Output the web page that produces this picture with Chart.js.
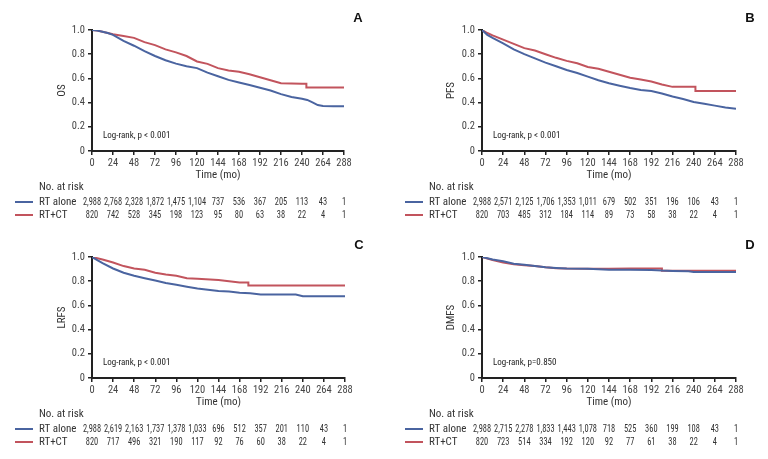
<!DOCTYPE html>
<html><head><meta charset="utf-8">
<script src="https://cdn.jsdelivr.net/npm/chart.js@4.4.0/dist/chart.umd.min.js"></script>
<style>
html,body{margin:0;padding:0;background:#fff;width:768px;height:459px;overflow:hidden}
.p{position:absolute}
</style></head><body>
<div class="p" style="left:0;top:0;width:384px;height:230px"><canvas id="cA"></canvas></div>
<div class="p" style="left:384px;top:0;width:384px;height:230px"><canvas id="cB"></canvas></div>
<div class="p" style="left:0;top:230px;width:384px;height:229px"><canvas id="cC"></canvas></div>
<div class="p" style="left:384px;top:230px;width:384px;height:229px"><canvas id="cD"></canvas></div>
<script>
// ---- tick labels ----
const xTicks = [0, 24, 48, 72, 96, 120, 144, 168, 192, 216, 240, 264, 288];
const yTicks = [0, 0.2, 0.4, 0.6, 0.8, 1.0];
const groups = ['RT alone', 'RT+CT'];

// ---- A: OS ----
const osAloneTime = [0, 6, 12, 18, 24, 36, 48, 60, 72, 84, 96, 108, 120, 132, 144, 156, 168, 180, 192, 204, 216, 228, 240, 246, 252, 258, 264, 276, 288];
const osAloneSurv = [1, 0.995, 0.985, 0.975, 0.96, 0.91, 0.87, 0.825, 0.785, 0.75, 0.722, 0.70, 0.685, 0.648, 0.618, 0.588, 0.566, 0.545, 0.523, 0.50, 0.47, 0.447, 0.432, 0.422, 0.402, 0.38, 0.372, 0.37, 0.37];
const osCtTime = [0, 6, 12, 18, 24, 36, 48, 60, 72, 84, 96, 108, 120, 132, 144, 156, 168, 180, 192, 204, 216, 228, 240, 245, 245, 288];
const osCtSurv = [1, 0.995, 0.985, 0.975, 0.965, 0.95, 0.935, 0.9, 0.875, 0.84, 0.815, 0.785, 0.74, 0.72, 0.685, 0.665, 0.655, 0.635, 0.61, 0.585, 0.56, 0.557, 0.555, 0.555, 0.525, 0.525];
const osRiskAlone = [2988, 2768, 2328, 1872, 1475, 1104, 737, 536, 367, 205, 113, 43, 1];
const osRiskCt = [820, 742, 528, 345, 198, 123, 95, 80, 63, 38, 22, 4, 1];

// ---- B: PFS ----
const pfsAloneTime = [0, 6, 12, 24, 36, 48, 60, 72, 84, 96, 108, 120, 132, 144, 156, 168, 180, 192, 204, 216, 228, 240, 252, 264, 276, 288];
const pfsAloneSurv = [1, 0.96, 0.935, 0.89, 0.84, 0.80, 0.765, 0.73, 0.70, 0.67, 0.645, 0.615, 0.585, 0.56, 0.54, 0.52, 0.505, 0.495, 0.475, 0.45, 0.43, 0.405, 0.39, 0.375, 0.36, 0.35];
const pfsCtTime = [0, 6, 12, 24, 36, 48, 60, 72, 84, 96, 108, 120, 132, 144, 156, 168, 180, 192, 204, 216, 242, 242, 288];
const pfsCtSurv = [1, 0.975, 0.955, 0.92, 0.885, 0.85, 0.83, 0.80, 0.77, 0.745, 0.725, 0.695, 0.68, 0.655, 0.63, 0.605, 0.59, 0.575, 0.55, 0.53, 0.53, 0.495, 0.495];
const pfsRiskAlone = [2988, 2571, 2125, 1706, 1353, 1011, 679, 502, 351, 196, 106, 43, 1];
const pfsRiskCt = [820, 703, 485, 312, 184, 114, 89, 73, 58, 38, 22, 4, 1];

// ---- C: LRFS ----
const lrfsAloneTime = [0, 6, 12, 24, 36, 48, 60, 72, 84, 96, 108, 120, 132, 144, 156, 168, 180, 192, 216, 232, 240, 288];
const lrfsAloneSurv = [1, 0.975, 0.95, 0.905, 0.87, 0.845, 0.825, 0.805, 0.785, 0.77, 0.755, 0.74, 0.73, 0.72, 0.715, 0.705, 0.70, 0.69, 0.69, 0.69, 0.675, 0.675];
const lrfsCtTime = [0, 12, 24, 36, 48, 60, 72, 84, 96, 108, 120, 144, 156, 168, 178, 178, 288];
const lrfsCtSurv = [1, 0.98, 0.955, 0.925, 0.905, 0.895, 0.87, 0.855, 0.845, 0.825, 0.82, 0.81, 0.80, 0.79, 0.79, 0.765, 0.765];
const lrfsRiskAlone = [2988, 2619, 2163, 1737, 1378, 1033, 696, 512, 357, 201, 110, 43, 1];
const lrfsRiskCt = [820, 717, 496, 321, 190, 117, 92, 76, 60, 38, 22, 4, 1];

// ---- D: DMFS ----
const dmfsAloneTime = [0, 12, 24, 36, 48, 60, 72, 84, 96, 120, 144, 168, 192, 204, 216, 234, 240, 288];
const dmfsAloneSurv = [1, 0.98, 0.965, 0.945, 0.935, 0.925, 0.915, 0.91, 0.905, 0.902, 0.895, 0.895, 0.893, 0.888, 0.885, 0.882, 0.877, 0.875];
const dmfsCtTime = [0, 12, 24, 36, 48, 60, 72, 84, 96, 120, 144, 168, 204, 204, 288];
const dmfsCtSurv = [1, 0.975, 0.955, 0.94, 0.932, 0.925, 0.915, 0.908, 0.905, 0.903, 0.903, 0.905, 0.905, 0.887, 0.887];
const dmfsRiskAlone = [2988, 2715, 2278, 1833, 1443, 1078, 718, 525, 360, 199, 108, 43, 1];
const dmfsRiskCt = [820, 723, 514, 334, 192, 120, 92, 77, 61, 38, 22, 4, 1];

// ---- styling ----
const BLUE = '#4a64a0';
const RED = '#c2545d';
const NARROW = '"Liberation Sans Narrow", "Roboto Condensed", "DejaVu Sans Condensed", sans-serif';
const AXIS = '#222';
const LABEL = '#444';

function pts(t, s) { return t.map((v, i) => ({ x: v, y: s[i] })); }

const panelPlugin = {
  id: 'panel',
  afterDraw(chart, args, o) {
    const { ctx, chartArea: a, scales: { x } } = chart;
    ctx.save();
    ctx.fillStyle = '#111';
    ctx.font = 'bold 13px "Liberation Sans", Arial, sans-serif';
    ctx.textAlign = 'center';
    ctx.textBaseline = 'middle';
    ctx.fillText(o.letter, a.right + 14, a.top - 12);

    ctx.fillStyle = '#222';
    ctx.font = '9px ' + NARROW;
    ctx.textAlign = 'left';
    ctx.fillText(o.logrank, a.left + 11, a.bottom - 15);

    ctx.fillStyle = '#333';
    ctx.font = '11px ' + NARROW;
    ctx.fillText('No. at risk', a.left - 53, a.bottom + 36);
    const rows = [[o.riskAlone, BLUE, 51], [o.riskCt, RED, 64]];
    rows.forEach(([vals, col, dy], r) => {
      const y = a.bottom + dy;
      ctx.strokeStyle = col;
      ctx.lineWidth = 2;
      ctx.beginPath();
      ctx.moveTo(a.left - 77, y);
      ctx.lineTo(a.left - 59, y);
      ctx.stroke();
      ctx.fillStyle = '#333';
      ctx.textAlign = 'left';
      ctx.font = '11px ' + NARROW;
      ctx.fillText(groups[r], a.left - 53, y);
      ctx.textAlign = 'center';
      ctx.font = '10.5px ' + NARROW;
      vals.forEach((v, i) => {
        ctx.save();
        ctx.translate(x.getPixelForValue(xTicks[i]), y);
        ctx.scale(0.8, 1);
        ctx.fillText(v.toLocaleString('en-US'), 0, 0);
        ctx.restore();
      });
    });
    ctx.restore();
  }
};

function makeChart(id, cfg) {
  const axisFont = { family: NARROW, size: 10.5 };
  return new Chart(document.getElementById(id), {
    type: 'line',
    data: {
      datasets: [
        { label: groups[0], data: pts(cfg.t1, cfg.s1), borderColor: BLUE, borderWidth: 2, pointRadius: 0, tension: 0, fill: false },
        { label: groups[1], data: pts(cfg.t2, cfg.s2), borderColor: RED, borderWidth: 2, pointRadius: 0, tension: 0, fill: false }
      ]
    },
    options: {
      responsive: true, maintainAspectRatio: false, animation: false, devicePixelRatio: 1,
      layout: { padding: cfg.pad },
      plugins: {
        legend: { display: false }, tooltip: { enabled: false },
        panel: { letter: cfg.letter, logrank: cfg.logrank, riskAlone: cfg.r1, riskCt: cfg.r2 }
      },
      scales: {
        x: {
          type: 'linear', min: 0, max: 288,
          afterBuildTicks: s => { s.ticks = xTicks.map(v => ({ value: v })); },
          ticks: { autoSkip: false, maxRotation: 0, font: axisFont, color: LABEL, padding: 2 },
          grid: { drawOnChartArea: false, drawTicks: true, tickLength: 4, color: AXIS, lineWidth: 1.5 },
          border: { display: true, color: AXIS, width: 2 },
          title: { display: true, text: 'Time (mo)', font: { family: NARROW, size: 11 }, color: '#333', padding: { top: 4, bottom: 4 } },
          afterFit: s => { s.height = 35; }
        },
        y: {
          type: 'linear', min: 0, max: 1,
          afterBuildTicks: s => { s.ticks = yTicks.map(v => ({ value: v })); },
          ticks: { font: axisFont, color: LABEL, padding: 3, callback: v => v === 0 ? '0' : v.toFixed(1) },
          grid: { drawOnChartArea: false, drawTicks: true, tickLength: 4, color: AXIS, lineWidth: 1.5 },
          border: { display: true, color: AXIS, width: 2 },
          title: { display: true, text: cfg.ylabel, font: { family: NARROW, size: 11 }, color: '#333', padding: { top: 4, bottom: 4 } },
          afterFit: s => { s.width = cfg.yw; }
        }
      }
    },
    plugins: [panelPlugin]
  });
}

makeChart('cA', { t1: osAloneTime, s1: osAloneSurv, t2: osCtTime, s2: osCtSurv, r1: osRiskAlone, r2: osRiskCt,
  letter: 'A', logrank: 'Log-rank, p < 0.001', ylabel: 'OS', yw: 40, pad: { left: 52, right: 40, top: 30, bottom: 44 } });
makeChart('cB', { t1: pfsAloneTime, s1: pfsAloneSurv, t2: pfsCtTime, s2: pfsCtSurv, r1: pfsRiskAlone, r2: pfsRiskCt,
  letter: 'B', logrank: 'Log-rank, p < 0.001', ylabel: 'PFS', yw: 41, pad: { left: 57, right: 32, top: 30, bottom: 44 } });
makeChart('cC', { t1: lrfsAloneTime, s1: lrfsAloneSurv, t2: lrfsCtTime, s2: lrfsCtSurv, r1: lrfsRiskAlone, r2: lrfsRiskCt,
  letter: 'C', logrank: 'Log-rank, p < 0.001', ylabel: 'LRFS', yw: 40, pad: { left: 52, right: 39, top: 27, bottom: 46 } });
makeChart('cD', { t1: dmfsAloneTime, s1: dmfsAloneSurv, t2: dmfsCtTime, s2: dmfsCtSurv, r1: dmfsRiskAlone, r2: dmfsRiskCt,
  letter: 'D', logrank: 'Log-rank, p=0.850', ylabel: 'DMFS', yw: 41, pad: { left: 57, right: 32, top: 27, bottom: 46 } });
</script>
</body></html>
